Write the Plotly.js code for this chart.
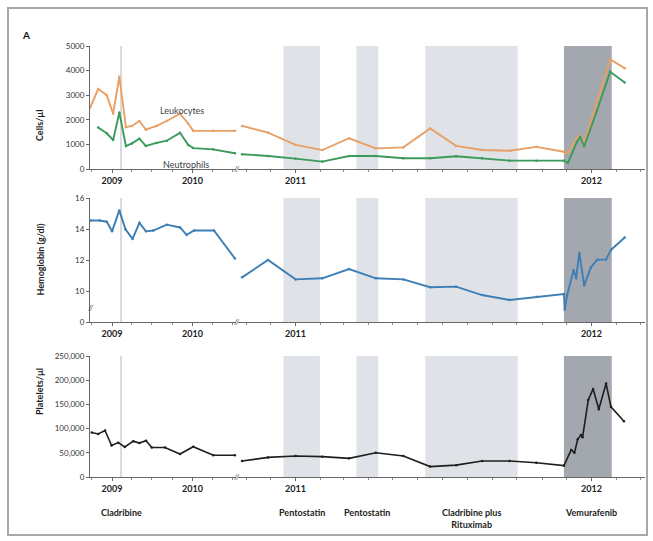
<!DOCTYPE html>
<html>
<head>
<meta charset="utf-8">
<script src="https://cdn.plot.ly/plotly-3.0.1.min.js"></script>
<style>html,body{margin:0;padding:0;background:#fff;}</style>
</head>
<body>
<div id="chart" style="width:653px;height:541px;"></div>
<script>
// ---------- DATA ----------
// Cells (leukocytes / neutrophils), segment before axis break
const cellDatesLeft = ['2008-09-24','2008-10-30','2008-12-08','2009-01-06','2009-02-03','2009-03-05','2009-04-01','2009-05-05','2009-06-03','2009-07-22','2009-09-06','2009-11-05','2009-12-12','2010-01-04','2010-04-04','2010-07-12'];
const leukLeft = [2500,3250,3000,2250,3750,1700,1750,1950,1600,1750,1950,2250,1850,1550,1550,1550];
const neutLeft = [null,1690,1450,1180,2300,930,1040,1230,940,1060,1150,1470,980,850,800,640];
// Cells, segment after axis break
const cellDatesRight = ['2010-10-27','2010-11-28','2011-01-01','2011-02-03','2011-03-08','2011-04-10','2011-05-14','2011-06-16','2011-07-18','2011-08-19','2011-09-22','2011-10-25','2011-11-28','2011-12-03','2011-12-14','2011-12-18','2011-12-23','2012-01-08','2012-01-24','2012-02-11'];
const leukRight = [1750,1480,980,770,1250,840,880,1650,940,770,740,900,700,640,1250,1350,1050,2800,4450,4100];
const neutRight = [600,530,420,300,530,530,440,440,520,440,340,340,340,250,1100,1300,920,2400,3950,3520];

// Hemoglobin (g/dl)
const hgbDatesLeft = ['2008-09-26','2008-11-06','2008-12-08','2009-01-01','2009-02-03','2009-03-03','2009-04-04','2009-05-05','2009-06-04','2009-07-07','2009-09-06','2009-11-05','2009-12-05','2010-01-08','2010-04-08','2010-07-12'];
const hgbLeft = [14.55,14.55,14.47,13.85,15.2,13.98,13.36,14.4,13.85,13.9,14.28,14.1,13.62,13.9,13.9,12.1];
const hgbDatesRight = ['2010-10-27','2010-11-28','2011-01-01','2011-02-03','2011-03-08','2011-04-10','2011-05-14','2011-06-16','2011-07-18','2011-08-19','2011-09-22','2011-10-25','2011-11-28','2011-11-29','2011-12-02','2011-12-10','2011-12-13','2011-12-17','2011-12-23','2011-12-31','2012-01-08','2012-01-19','2012-01-25','2012-02-11'];
const hgbRight = [10.88,12.0,10.75,10.82,11.42,10.82,10.75,10.24,10.28,9.74,9.42,9.63,9.81,8.8,9.75,11.35,10.82,12.47,10.35,11.5,12.02,12.04,12.65,13.45];

// Platelets (/µl)
const pltDatesLeft = ['2008-10-01','2008-10-30','2008-11-30','2008-12-30','2009-01-29','2009-02-28','2009-04-07','2009-05-05','2009-06-04','2009-06-30','2009-08-29','2009-11-05','2010-01-04','2010-04-05','2010-07-12'];
const pltLeft = [92000,89000,96000,65000,71000,62000,74000,70000,75000,61000,61000,47500,62500,45000,45000];
const pltDatesRight = ['2010-10-27','2010-11-28','2011-01-01','2011-02-03','2011-03-08','2011-04-10','2011-05-14','2011-06-16','2011-07-18','2011-08-19','2011-09-22','2011-10-25','2011-11-28','2011-12-07','2011-12-11','2011-12-15','2011-12-19','2011-12-21','2011-12-28','2012-01-03','2012-01-10','2012-01-19','2012-01-25','2012-02-10'];
const pltRight = [33000,40500,43500,42000,38500,50000,43500,21500,24500,33000,33000,29500,23500,56000,50000,78000,87000,82000,159000,182000,140000,193000,145000,115000];

// Treatments
const cladribineDate = '2009-02-11';
const bandStart = ['2010-12-17','2011-03-17','2011-06-10','2011-11-28'];
const bandEnd   = ['2011-01-31','2011-04-13','2011-10-02','2012-01-26'];
const bandDark  = [false,false,false,true];
const treatmentLabels = ['Cladribine','Pentostatin','Pentostatin','Cladribine plus<br>Rituximab','Vemurafenib'];
const treatmentDates  = ['2009-02-11','2011-01-09','2011-03-30','2011-08-06','2012-01-01'];
const treatmentAxis   = ['x5','x6','x6','x6','x6'];

// Axis labels
const rowTitles = ['Cells/µl','Hemoglobin (g/dl)','Platelets/µl'];
const hgbTickVals = [8,10,12,14,16];
const hgbTickText = ['0','10','12','14','16'];

// ---------- LAYOUT HELPERS ----------
const W = 653, H = 541;
const px = v => v / W;
const py = v => 1 - v / H;
const FONT = 'Lato, "Liberation Sans", Arial, sans-serif';
const leftDom = [px(90), px(236)];
const rightDom = [px(238), px(645)];
const rowDom = [[py(169), py(46)], [py(322), py(198)], [py(477), py(356)]];
const leftRange = ['2008-09-23','2010-07-17'];
const rightRange = ['2010-10-22','2012-03-07'];

const ORANGE = '#e8a064', GREEN = '#3c9a5c', BLUE = '#3d7fb5', BLACK = '#1e1e1e';

function xAx(dom, range, anchor, minorDtick) {
  return {
    domain: dom, range: range, type: 'date', anchor: anchor,
    showline: true, linecolor: '#666', linewidth: 1,
    ticks: 'outside', ticklen: 3, tickcolor: '#666',
    tick0: '2009-01-01', dtick: 'M12', tickformat: '%Y',
    tickfont: {size: 9, color: '#222', family: FONT, weight: 'bold'},
    minor: {dtick: minorDtick, tick0: '2009-01-01', ticks: 'outside', ticklen: 2, tickcolor: '#888'},
    showgrid: false, zeroline: false, fixedrange: true
  };
}
function yAx(dom, anchor, extra) {
  return Object.assign({
    domain: dom, anchor: anchor,
    showline: true, linecolor: '#666', linewidth: 1,
    ticks: 'outside', ticklen: 3, tickcolor: '#666',
    tickfont: {size: 8, color: '#333', family: FONT},
    showgrid: false, zeroline: false, fixedrange: true
  }, extra);
}

const layout = {
  width: W, height: H,
  margin: {l: 0, r: 0, t: 0, b: 0},
  paper_bgcolor: '#fff', plot_bgcolor: 'rgba(0,0,0,0)',
  showlegend: false,
  font: {family: FONT, color: '#222'},
  xaxis:  xAx(leftDom, leftRange, 'y', 'M3'),
  xaxis2: xAx(rightDom, rightRange, 'y', 'M1'),
  xaxis3: xAx(leftDom, leftRange, 'y2', 'M3'),
  xaxis4: xAx(rightDom, rightRange, 'y2', 'M1'),
  xaxis5: xAx(leftDom, leftRange, 'y3', 'M3'),
  xaxis6: xAx(rightDom, rightRange, 'y3', 'M1'),
  yaxis:  yAx(rowDom[0], 'x', {range: [0, 5000], dtick: 1000}),
  yaxis2: yAx(rowDom[1], 'x3', {range: [8, 16], tickvals: hgbTickVals, ticktext: hgbTickText}),
  yaxis3: yAx(rowDom[2], 'x5', {range: [0, 250000], dtick: 50000, tickformat: ',d'}),
  shapes: [],
  annotations: []
};

// Frame
layout.shapes.push({type: 'rect', xref: 'paper', yref: 'paper', x0: px(8), x1: px(647), y0: py(535), y1: py(8),
  line: {color: '#a8a8a8', width: 2}, fillcolor: 'rgba(0,0,0,0)', layer: 'below'});

// Bands and cladribine line in every row
const rowX = [['x','x2','y'],['x3','x4','y2'],['x5','x6','y3']];
rowX.forEach(r => {
  bandStart.forEach((s, i) => {
    layout.shapes.push({type: 'rect', xref: r[1], yref: r[2] + ' domain', x0: s, x1: bandEnd[i], y0: 0, y1: 1,
      fillcolor: bandDark[i] ? '#a3a8ae' : '#dfe3e7', line: {width: 0}, layer: 'below'});
  });
  layout.shapes.push({type: 'line', xref: r[0], yref: r[2] + ' domain', x0: cladribineDate, x1: cladribineDate, y0: 0, y1: 1,
    line: {color: '#d6dade', width: 2}, layer: 'below'});
  // axis break marks
  layout.annotations.push({xref: 'paper', yref: r[2] + ' domain', x: px(237), y: 0, text: '//', showarrow: false,
    font: {size: 8, color: '#555', family: FONT}, xanchor: 'center', yanchor: 'middle'});
});
// y-axis break on hemoglobin
layout.annotations.push({xref: 'paper', yref: 'paper', x: px(91), y: py(308), text: '//', showarrow: false,
  font: {size: 8, color: '#555', family: FONT}, xanchor: 'center', yanchor: 'middle'});

// Panel letter
layout.annotations.push({xref: 'paper', yref: 'paper', x: px(20), y: py(27), text: 'A', showarrow: false,
  font: {size: 10, color: '#111', family: FONT, weight: 'bold'}});

// Row titles
const titleY = [py(108), py(260), py(417)];
rowTitles.forEach((t, i) => {
  layout.annotations.push({xref: 'paper', yref: 'paper', x: px(32), y: titleY[i], text: t, showarrow: false,
    textangle: -90, font: {size: 9, color: '#222', family: FONT, weight: 'bold'}});
});

// Series labels
layout.annotations.push({xref: 'paper', yref: 'paper', x: px(158), y: py(103), text: 'Leukocytes', showarrow: false,
  font: {size: 9, color: '#3a3f47', family: FONT}});
layout.annotations.push({xref: 'paper', yref: 'paper', x: px(161), y: py(157), text: 'Neutrophils', showarrow: false,
  font: {size: 9, color: '#3a3f47', family: FONT}});

// Treatment labels
treatmentLabels.forEach((t, i) => {
  layout.annotations.push({xref: treatmentAxis[i], yref: 'paper', x: treatmentDates[i], y: py(505), text: t,
    showarrow: false, xanchor: 'center', yanchor: 'top', align: 'center',
    font: {size: 9, color: '#222', family: FONT, weight: 'bold'}});
});

function line(x, y, xa, ya, color, w) {
  return {type: 'scatter', mode: 'lines+markers', x: x, y: y, xaxis: xa, yaxis: ya,
    line: {color: color, width: w || 1.9}, marker: {size: 2.5, color: color},
    connectgaps: false, hoverinfo: 'skip', cliponaxis: false};
}

const data = [
  line(cellDatesLeft, leukLeft, 'x', 'y', ORANGE),
  line(cellDatesRight, leukRight, 'x2', 'y', ORANGE),
  line(cellDatesLeft, neutLeft, 'x', 'y', GREEN),
  line(cellDatesRight, neutRight, 'x2', 'y', GREEN),
  line(hgbDatesLeft, hgbLeft, 'x3', 'y2', BLUE),
  line(hgbDatesRight, hgbRight, 'x4', 'y2', BLUE),
  line(pltDatesLeft, pltLeft, 'x5', 'y3', BLACK, 1.6),
  line(pltDatesRight, pltRight, 'x6', 'y3', BLACK, 1.6)
];

Plotly.newPlot('chart', data, layout, {staticPlot: true, displayModeBar: false});
</script>
</body>
</html>
